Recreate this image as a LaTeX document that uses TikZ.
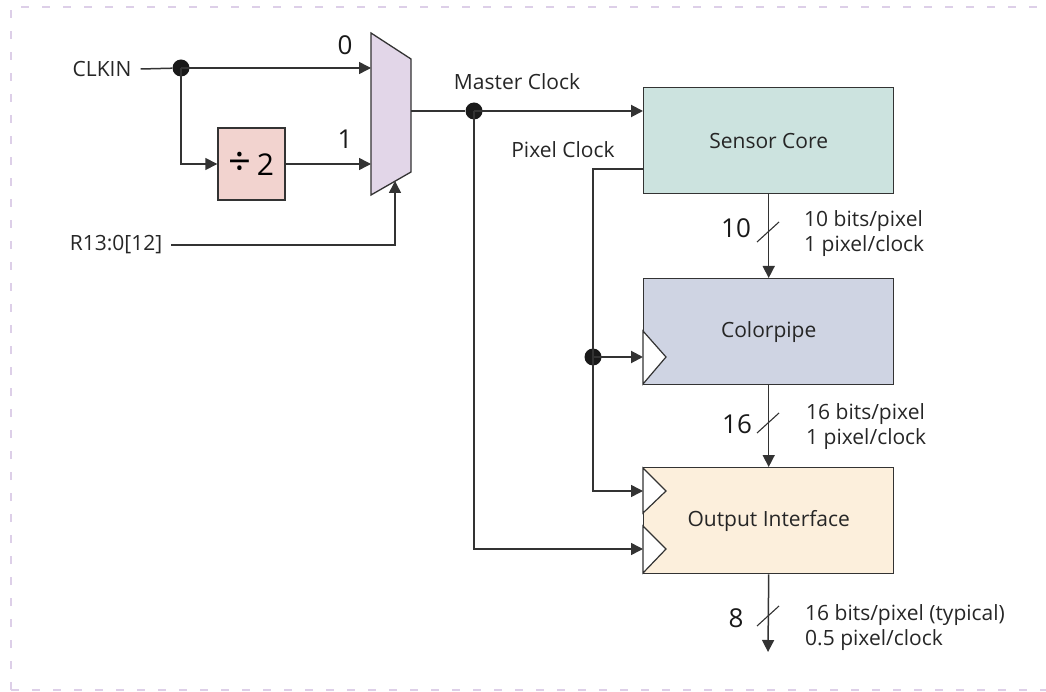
\documentclass[tikz,border=0pt]{standalone}
\usepackage{fontspec}
\setmainfont{Open Sans}
\usetikzlibrary{positioning}
\usetikzlibrary{arrows.meta}
\usepackage{xcolor}

\definecolor{coreteal}{HTML}{CCE3DF}
\definecolor{pipeblue}{HTML}{CFD4E3}
\definecolor{outcream}{HTML}{FCEFDC}
\definecolor{divpink}{HTML}{F2D3CF}
\definecolor{muxlilac}{HTML}{E2D6E8}
\definecolor{wiregray}{HTML}{333333}
\definecolor{framelav}{HTML}{DDCFE8}

\begin{document}
\begin{tikzpicture}[x=1pt, y=-1pt,
  wire/.style={draw=wiregray, line width=1.5pt},
  sig/.style={wire, -{Triangle[length=12pt,width=12pt]}},
  blockbox/.style={draw=wiregray, line width=1.4pt, minimum width=250pt, minimum height=106pt, inner sep=0pt, anchor=north west},
  jdot/.style={circle, fill=black!90, inner sep=0pt, minimum size=17pt},
  lbl/.style={font=\fontsize{21}{25}\selectfont, text=black!85, inner sep=5pt},
  busnum/.style={font=\fontsize{26}{28}\selectfont, text=black!90, inner sep=0pt}]
\useasboundingbox (0,0) rectangle (1046,692);
\draw[framelav, line width=2.5pt, dash pattern=on 8pt off 13pt] (11,690) -- (11,7) -- (1060,7);
\draw[framelav, line width=2.5pt, dash pattern=on 8pt off 13pt] (11,690) -- (1060,690);

% multiplexer
\draw[wire, line width=1.3pt, fill=muxlilac] (371,33) -- (411,59) -- (411,172) -- (371,195) -- cycle;
\coordinate (mux0) at (371,68);
\coordinate (mux1) at (371,164);
\coordinate (muxsel) at (395,181);
\coordinate (muxout) at (411,111);
\node[busnum] (in0) at (345,45) {0};
\node[busnum] (in1) at (345,139) {1};

% blocks
\node[blockbox, fill=coreteal] (core) at (643,87) {};
\node[lbl] at (core.center) {Sensor Core};
\node[blockbox, fill=pipeblue] (pipe) at (643,278) {};
\node[lbl] at (pipe.center) {Colorpipe};
\node[blockbox, fill=outcream] (outif) at (643,467) {};
\node[lbl] at (outif.center) {Output Interface};
\node[draw=wiregray, line width=1.4pt, fill=divpink, minimum width=67pt, minimum height=72pt, inner sep=0pt,
  font=\fontsize{30}{32}\selectfont] (div) at (251.5,164) {{\fontsize{40}{40}\selectfont ÷}\,2};

% clock inputs
\draw[wire, line width=1.2pt, fill=white] (643,331) -- (666,357) -- (643,384) -- cycle;
\draw[wire, line width=1.2pt, fill=white] (643,468) -- (666,491) -- (643,513) -- cycle;
\draw[wire, line width=1.2pt, fill=white] (643,526) -- (666,549) -- (643,573) -- cycle;
\coordinate (pipeck) at (643,357);
\coordinate (outck1) at (643,491);
\coordinate (outck2) at (643,549);

% clock inputs to mux
\node[lbl, inner sep=9pt] (clkin) at (102,69) {CLKIN};
\node[lbl, inner sep=9pt] (rsel) at (116,245) {R13:0[12]};
\node[jdot] (dclk) at (181,68) {};
\draw[wire] (clkin.east) -- (dclk);
\draw[sig] (dclk.center) -- (mux0);
\draw[sig] (dclk.center) |- (div.west);
\draw[sig] (div.east) -- (mux1);
\draw[sig] (rsel.east) -| (muxsel);

% master clock
\node[jdot] (dmclk) at (474,111) {};
\node[lbl] (mclklbl) at (517,82) {Master Clock};
\draw[wire, line width=2pt] (muxout) -- (dmclk);
\draw[sig, line width=2pt] (dmclk.center) -- (dmclk -| core.west);
\draw[sig] (dmclk.center) |- (outck2);

% pixel clock
\coordinate (pclk) at (643,169);
\node[lbl] (pclklbl) at (563,150) {Pixel Clock};
\node[jdot] (dpclk) at (593,357) {};
\draw[wire] (pclk) -| (dpclk.center);
\draw[sig] (dpclk.center) |- (outck1);
\draw[sig, line width=2pt] (dpclk.center) -- (pipeck);

% data buses
\coordinate (pxout) at (768,652);
\draw[sig] (core.south) -- (pipe.north);
\draw[sig] (pipe.south) -- (outif.north);
\draw[sig] (outif.south) -- (pxout);
\coordinate (bus1) at (768,232);
\coordinate (bus2) at (768,423);
\coordinate (bus3) at (768,616);
\foreach \b in {bus1,bus2,bus3}
  \draw[wiregray, line width=1.1pt] ([shift={(-11,10)}]\b) -- ([shift={(11,-10)}]\b);

\node[busnum] (w1) at (736,228) {10};
\node[busnum] (w2) at (737,424) {16};
\node[busnum] (w3) at (736,618) {8};
\node[lbl, anchor=west, align=left, inner sep=0pt] (r1) at (804,234) {10 bits/pixel\\1 pixel/clock};
\node[lbl, anchor=west, align=left, inner sep=0pt] (r2) at (806,427) {16 bits/pixel\\1 pixel/clock};
\node[lbl, anchor=west, align=left, inner sep=0pt] (r3) at (805,628) {16 bits/pixel (typical)\\0.5 pixel/clock};

\end{tikzpicture}
\end{document}
